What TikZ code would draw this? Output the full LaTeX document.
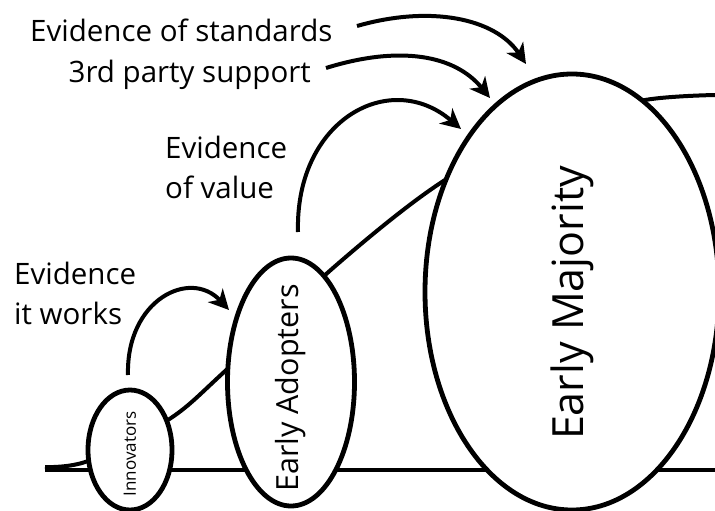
\documentclass[tikz,border=0pt]{standalone}
\usepackage{fontspec}
\setmainfont{Open Sans}
\usetikzlibrary{shapes.geometric,arrows.meta}
\begin{document}
\begin{tikzpicture}[x=1pt,y=-1pt,
  bubble/.style={ellipse,draw,line width=4.8pt,fill=white,inner sep=0pt,rotate=90},
  track/.style={line width=4pt},
  feed/.style={line width=4pt,-{Stealth[length=20pt,width=20pt,inset=6pt]}},
  lbl/.style={inner sep=0pt,font=\fontsize{29.5}{40}\selectfont}]
\useasboundingbox (0,0) rectangle (715,511);
\clip (0,0) rectangle (715,511);

% baseline and cumulative adoption curve
\draw[track] (45,470) -- (715,470);
\draw[track] plot[smooth,tension=0.55] coordinates
  {(45,467) (88,461) (168,420) (223,373) (333,268) (445,180) (560,122) (645,100) (715,95)};

% adopter groups (zero-width boxes keep the ellipse sizes and nudge the captions down)
\node[bubble,minimum width=120pt,minimum height=84pt,font=\fontsize{17}{17}\selectfont]
  (innov) at (130,450) {\makebox[0pt]{\kern-8pt Innovators}};
\node[bubble,minimum width=248pt,minimum height=127pt,font=\fontsize{30.5}{30.5}\selectfont]
  (adopt) at (291,382) {\makebox[0pt]{\kern-12pt Early Adopters}};
\node[bubble,minimum width=436pt,minimum height=294pt,font=\fontsize{43}{43}\selectfont]
  (major) at (572,292) {\makebox[0pt]{\kern-22pt Early Majority}};

% labels
\node[lbl,anchor=base west] (std) at (30,42) {Evidence of standards};
\node[lbl,anchor=base east] (party) at (311,82) {3rd party support};
\node[lbl,anchor=north west,align=left] (value) at (165,136) {Evidence\\of value};
\node[lbl,anchor=north west,align=left] (works) at (14,262) {Evidence\\it works};

% arrow end points
\coordinate (w0) at (128,375);
\coordinate (w1) at (229,310);
\coordinate (v0) at (298,232);
\coordinate (v1) at (461,129);
\coordinate (p0) at (326,68);
\coordinate (p1) at (490,98);
\coordinate (s0) at (357,26);
\coordinate (s1) at (526,64);

\draw[feed] (w0) .. controls (126,300) and (190,268) .. (w1);
\draw[feed] (v0) .. controls (295,120) and (390,68) .. (v1);
\draw[feed] (p0) .. controls (400,45) and (455,55) .. (p1);
\draw[feed] (s0) .. controls (430,5) and (495,18) .. (s1);
\end{tikzpicture}
\end{document}
